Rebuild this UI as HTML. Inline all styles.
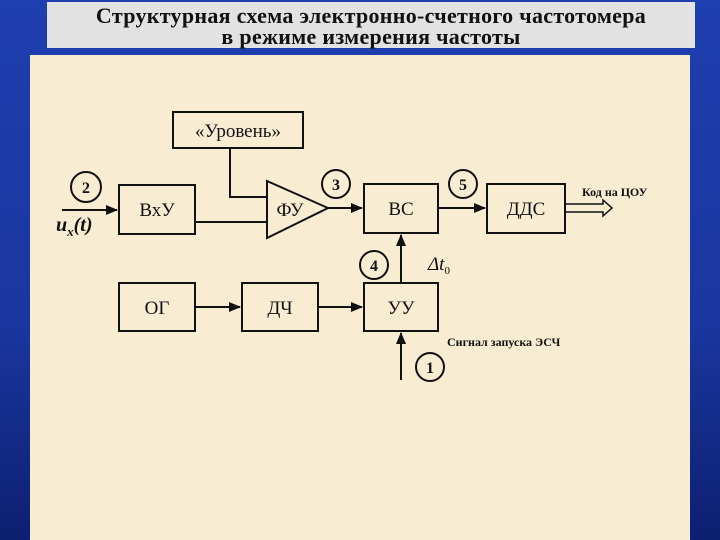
<!DOCTYPE html>
<html><head><meta charset="utf-8"><style>
html,body{margin:0;padding:0}
body{width:720px;height:540px;overflow:hidden;background:linear-gradient(#1e3fb0,#1a36a0 60%,#0d1f70);position:relative;font-family:"Liberation Serif","DejaVu Serif",serif}
#title{position:absolute;left:47px;top:2px;width:648px;height:46px;background:#e2e2e2;text-align:center;font-size:22px;line-height:21px;font-weight:bold;color:#111;padding-top:3px;box-sizing:border-box;letter-spacing:0.3px}
#panel{position:absolute;left:30px;top:55px;width:660px;height:485px;background:#f8ecd2}
svg{position:absolute;left:0;top:0}
</style></head><body>
<div id="title">Структурная схема электронно-счетного частотомера<br>в режиме измерения частоты</div>
<div id="panel"></div>
<svg width="720" height="540" font-family="Liberation Serif, serif">
<defs><marker id="a" markerWidth="12" markerHeight="10" refX="11" refY="5" orient="auto" markerUnits="userSpaceOnUse"><path d="M0,0 L12,5 L0,10 Z" fill="#111"/></marker></defs>
<g stroke="#111" stroke-width="2" fill="none">
<rect x="173" y="112" width="130" height="36"/>
<rect x="119" y="185" width="76" height="49"/>
<rect x="364" y="184" width="74" height="49"/>
<rect x="487" y="184" width="78" height="49"/>
<rect x="119" y="283" width="76" height="48"/>
<rect x="242" y="283" width="76" height="48"/>
<rect x="364" y="283" width="74" height="48"/>
<path d="M267,181 L267,238 L328,208 Z"/>
<path d="M230,148 V197 H267"/>
<path d="M195,222 H267"/>
<path d="M62,210 H117" marker-end="url(#a)"/>
<path d="M328,208 H362" marker-end="url(#a)"/>
<path d="M438,208 H485" marker-end="url(#a)"/>
<path d="M195,307 H240" marker-end="url(#a)"/>
<path d="M318,307 H362" marker-end="url(#a)"/>
<path d="M401,283 V235" marker-end="url(#a)"/>
<path d="M401,380 V333" marker-end="url(#a)"/>
<path d="M565,204 H603 V200 L612,208 L603,216 V212 H565" stroke-width="1.5"/>
<circle cx="86" cy="187" r="15"/>
<circle cx="336" cy="184" r="14"/>
<circle cx="463" cy="184" r="14"/>
<circle cx="374" cy="265" r="14"/>
<circle cx="430" cy="367" r="14"/>
</g>
<g fill="#111" font-size="19" text-anchor="middle">
<text x="238" y="137">«Уровень»</text>
<text x="157" y="216">ВхУ</text>
<text x="290" y="216">ФУ</text>
<text x="401" y="215">ВС</text>
<text x="526" y="215">ДДС</text>
<text x="157" y="314">ОГ</text>
<text x="280" y="314">ДЧ</text>
<text x="401" y="314">УУ</text>
<g font-weight="bold" font-size="16"><text x="86" y="193">2</text><text x="336" y="190">3</text><text x="463" y="190">5</text><text x="374" y="271">4</text><text x="430" y="373">1</text></g>
</g>
<text x="56" y="231" font-size="20" font-weight="bold" font-style="italic" fill="#111">u<tspan font-size="13" dy="5">x</tspan><tspan dy="-5">(t)</tspan></text>
<text x="428" y="270" font-size="19" font-style="italic" fill="#111">Δt<tspan font-size="11" dy="4" font-style="normal">0</tspan></text>
<text x="582" y="196" font-size="12" font-weight="bold" fill="#111">Код на ЦОУ</text>
<text x="447" y="346" font-size="12" font-weight="bold" fill="#111">Сигнал запуска ЭСЧ</text>
</svg>
</body></html>
